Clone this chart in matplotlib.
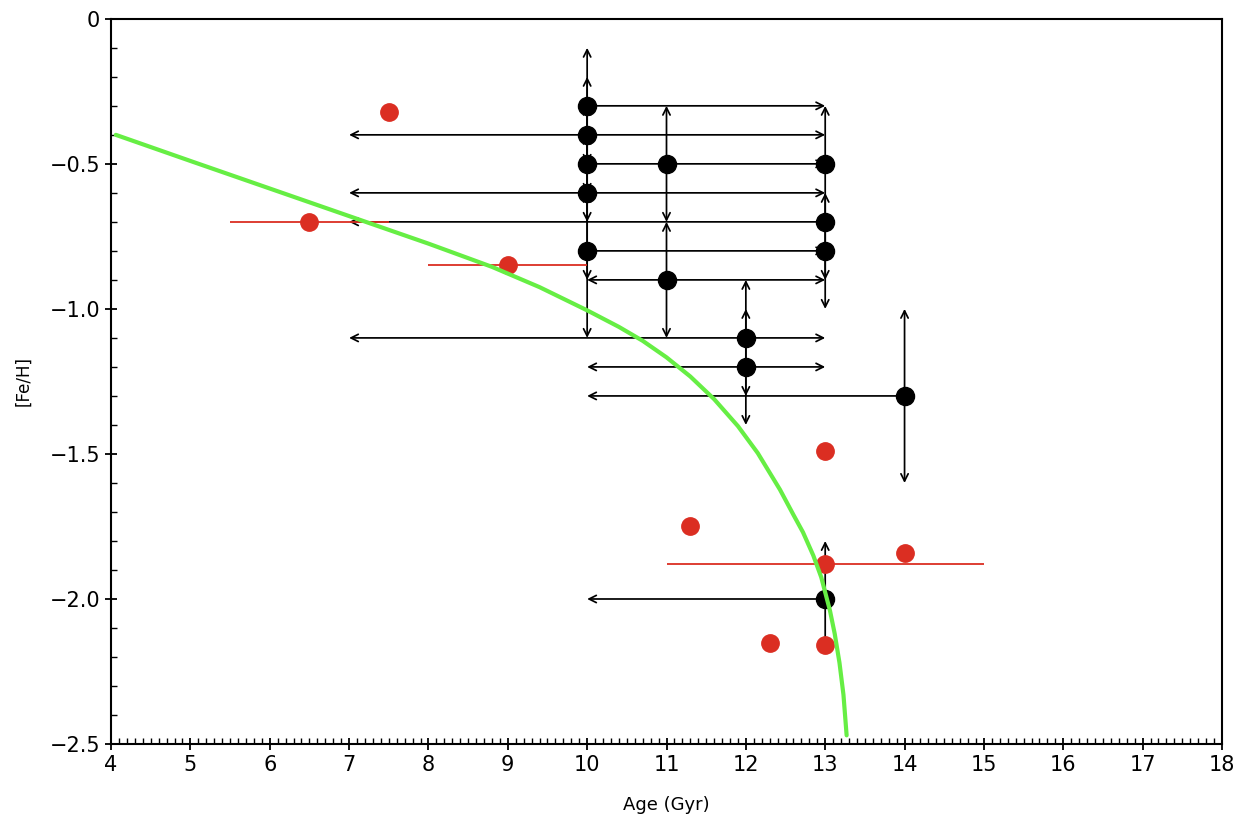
import matplotlib
matplotlib.use("Agg")
import matplotlib.pyplot as plt
from matplotlib.ticker import MultipleLocator, FuncFormatter

# black points with limit ranges: x, y, x_low, x_high, y_low, y_high (None = no arrow)
blk_x = [10, 10, 10, 10, 10, 11, 11, 13, 13, 13, 12, 12, 14, 13]
blk_y = [-0.3, -0.4, -0.5, -0.6, -0.8, -0.5, -0.9, -0.5, -0.7, -0.8, -1.1, -1.2, -1.3, -2.0]
blk_xlo = [None, 7, None, 7, None, None, 10, None, 7, None, 7, 10, 10, 10]
blk_xhi = [13, 13, 13, 13, 13, None, 13, None, None, None, 13, 13, None, None]
blk_ylo = [-0.5, -0.6, -0.7, -0.9, -1.1, -0.7, -1.1, -0.9, -1.0, None, -1.3, -1.4, -1.6, -2.17]
blk_yhi = [-0.1, -0.2, -0.3, -0.4, -0.6, -0.3, -0.7, -0.3, -0.6, None, -0.9, -1.0, -1.0, -1.8]

# red points with symmetric age errors
red_x = [6.5, 7.5, 9.0, 11.3, 13.0, 13.0, 14.0, 12.3, 13.0]
red_y = [-0.7, -0.32, -0.85, -1.75, -1.49, -1.88, -1.84, -2.15, -2.16]
red_xerr = [1.0, 0, 1.0, 0, 0, 2.0, 0, 0, 0]

# green model curve
fit_x = [4.06, 5.0, 6.0, 7.0, 8.0, 8.8, 9.4, 10.0, 10.4, 10.7, 11.0, 11.3, 11.6, 11.9, 12.15,
         12.43, 12.6, 12.72, 12.85, 12.95, 13.06, 13.12, 13.18, 13.23, 13.27]
fit_y = [-0.40, -0.49, -0.585, -0.68, -0.775, -0.855, -0.925, -1.005, -1.062, -1.11, -1.167, -1.233,
         -1.311, -1.404, -1.497, -1.623, -1.71, -1.77, -1.85, -1.925, -2.04, -2.12, -2.22, -2.33, -2.47]

fig = plt.figure(figsize=(12.52, 8.36), dpi=100)
ax = fig.add_axes([0.0887, 0.110, 0.8873, 0.8675])

arrow = dict(arrowstyle="->", color="black", lw=1.25, shrinkA=0, shrinkB=0, mutation_scale=13)
for i in range(len(blk_x)):
    x, y = blk_x[i], blk_y[i]
    for end in [(blk_xlo[i], y), (blk_xhi[i], y)]:
        if end[0] is not None:
            ax.annotate("", xy=end, xytext=(x, y), arrowprops=arrow, zorder=2)
    for end in [(x, blk_ylo[i]), (x, blk_yhi[i])]:
        if end[1] is not None:
            ax.annotate("", xy=end, xytext=(x, y), arrowprops=arrow, zorder=2)
ax.plot(blk_x, blk_y, "o", color="black", ms=13, zorder=3)

ax.errorbar(red_x, red_y, xerr=red_xerr, fmt="o", color="#db2e22", ms=12.5,
            elinewidth=1.3, capsize=0, zorder=4)

ax.plot(fit_x, fit_y, color="#66ee44", lw=3, zorder=5, solid_capstyle="round",
        solid_joinstyle="round")

ax.set_xlim(4, 18)
ax.set_ylim(-2.5, 0)
ax.xaxis.set_major_locator(MultipleLocator(1))
ax.xaxis.set_minor_locator(MultipleLocator(0.1))
ax.yaxis.set_major_locator(MultipleLocator(0.5))
ax.yaxis.set_minor_locator(MultipleLocator(0.1))
ax.yaxis.set_major_formatter(FuncFormatter(lambda v, p: "0" if abs(v) < 1e-9 else "\u2212%.1f" % abs(v)))
ax.tick_params(which="major", direction="inout", length=9, width=1.3, labelsize=15)
ax.tick_params(which="minor", direction="in", length=4, width=1)
ax.tick_params(top=False, right=False)
for s in ax.spines.values():
    s.set_linewidth(1.5)

ax.set_xlabel("Age (Gyr)", fontsize=13)
ax.set_ylabel("[Fe/H]", fontsize=12)
ax.xaxis.set_label_coords(0.5, -0.072)
ax.yaxis.set_label_coords(-0.071, 0.5)

fig.savefig("out.png", dpi=100)
